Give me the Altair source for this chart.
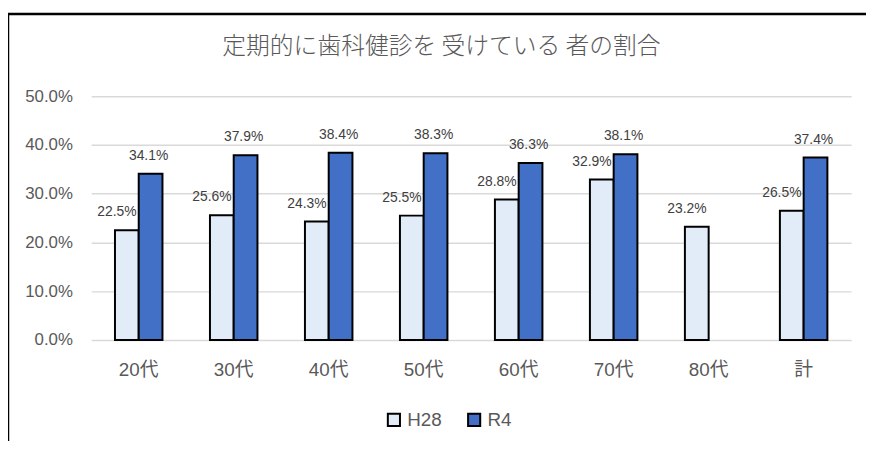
import altair as alt
import pandas as pd

categories = ["20代", "30代", "40代", "50代", "60代", "70代", "80代", "計"]
h28 = [0.225, 0.256, 0.243, 0.255, 0.288, 0.329, 0.232, 0.265]
r4 = [0.341, 0.379, 0.384, 0.383, 0.363, 0.381, None, 0.374]
series = ["H28", "R4"]
colors = ["#e2ecf9", "#4170c6"]
title = "定期的に歯科健診を 受けている 者の割合"

rows = []
for c, a, b in zip(categories, h28, r4):
    rows.append({"cat": c, "series": "H28", "value": a})
    if b is not None:
        rows.append({"cat": c, "series": "R4", "value": b})
df = pd.DataFrame(rows)

FONT = "Liberation Sans, Noto Sans CJK JP"
CJK = "Noto Sans CJK JP"
GRAY = "#595959"

base = alt.Chart(df).encode(
    x=alt.X("cat:N", sort=categories, title=None,
            scale=alt.Scale(paddingInner=0.5, paddingOuter=0.25),
            axis=alt.Axis(labelAngle=0, labelFontSize=19, labelColor=GRAY,
                          labelPadding=21, ticks=False, domain=False, labelFont=FONT)),
    xOffset=alt.XOffset("series:N", sort=series, scale=alt.Scale(domain=series)),
)

bars = base.mark_bar(stroke="black", strokeWidth=2).encode(
    y=alt.Y("value:Q", title=None,
            scale=alt.Scale(domain=[0, 0.5]),
            axis=alt.Axis(values=[0, 0.1, 0.2, 0.3, 0.4, 0.5], format=".1%",
                          labelFontSize=17, labelColor=GRAY, labelPadding=19,
                          ticks=False, domain=False, gridColor="#d9d9d9",
                          gridWidth=1.5, labelFont=FONT)),
    fill=alt.Fill("series:N", sort=series,
                  scale=alt.Scale(domain=series, range=colors),
                  legend=alt.Legend(title=None, orient="none", direction="horizontal",
                                    legendX=296, legendY=317, symbolType="square",
                                    symbolSize=150, symbolStrokeColor="black",
                                    symbolStrokeWidth=2, labelFontSize=19,
                                    labelColor=GRAY, labelFont=FONT,
                                    columnPadding=22, symbolOffset=0)),
)

lab_h = base.transform_filter(alt.datum.series == "H28").mark_text(
    baseline="bottom", dy=-11, dx=-10, fontSize=14, color="#404040", font=FONT
).encode(y="value:Q", text=alt.Text("value:Q", format=".1%"))

lab_r = base.transform_filter(alt.datum.series == "R4").mark_text(
    baseline="bottom", dy=-11, dx=-2, fontSize=14, color="#404040", font=FONT
).encode(y="value:Q", text=alt.Text("value:Q", format=".1%"))

frame = alt.Chart(pd.DataFrame({"k": [0]})).mark_rect(
    fillOpacity=0, stroke="black", strokeWidth=2.5
).encode(x=alt.value(-84), x2=alt.value(820), y=alt.value(-83), y2=alt.value(420))

chart = alt.layer(bars, lab_h, lab_r, frame).properties(
    width=767, height=246,
    padding={"left": 84, "top": 87, "right": 15, "bottom": 100},
    autosize=alt.AutoSizeParams(type="none"),
    title=alt.TitleParams(title, fontSize=24, color=GRAY, font=CJK,
                          fontWeight=300, anchor="middle", dx=-30, offset=-47),
).configure_view(stroke=None)

chart.save("out.html", embed_options={"renderer": "svg", "actions": False})
